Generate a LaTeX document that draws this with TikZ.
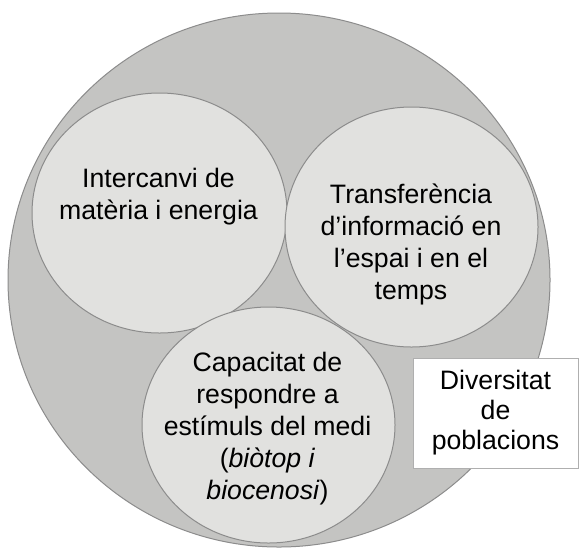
\documentclass[tikz,border=0pt]{standalone}
\usepackage{fontspec}
\setmainfont{Liberation Sans}
\definecolor{outergray}{RGB}{196,196,194}
\definecolor{innergray}{RGB}{225,225,223}
\definecolor{edgegray}{RGB}{140,140,140}
\definecolor{boxgray}{RGB}{175,175,175}
\begin{document}
\begin{tikzpicture}[x=0.75pt, y=-0.75pt,
    bubble/.style={fill=innergray, draw=edgegray, line width=0.75pt},
    txt/.style={align=center, inner sep=0pt, font=\fontsize{20}{24}\selectfont}]
  \useasboundingbox (0,0) rectangle (580,550);
  \fill[white] (0,0) rectangle (580,550);
  % outer circle
  \draw[fill=outergray, draw=edgegray, line width=0.75pt] (279,280) ellipse [x radius=271, y radius=267];
  % the three inner circles
  \draw[bubble] (159.5,213) ellipse [x radius=127.5, y radius=120];
  \draw[bubble] (411.5,227) ellipse [x radius=126.5, y radius=120];
  \draw[bubble] (268.5,425) ellipse [x radius=126.5, y radius=118];
  \node[txt] (exchange) at (158.5,197) {Intercanvi de\\matèria i energia};
  \node[txt] (transfer) at (411,244.5) {Transferència\\d’informació en\\l’espai i en el\\temps};
  \node[txt] (response) at (267.5,429) {Capacitat de\\respondre a\\estímuls del medi\\(\textit{biòtop i}\\\textit{biocenosi})};
  % label box
  \node[txt, draw=boxgray, fill=white, line width=0.75pt, minimum width=123.75pt, minimum height=82.5pt,
        font=\fontsize{20}{22.5}\selectfont] (diversity) at (495.5,413) {Diversitat\\de\\poblacions};
\end{tikzpicture}
\end{document}
